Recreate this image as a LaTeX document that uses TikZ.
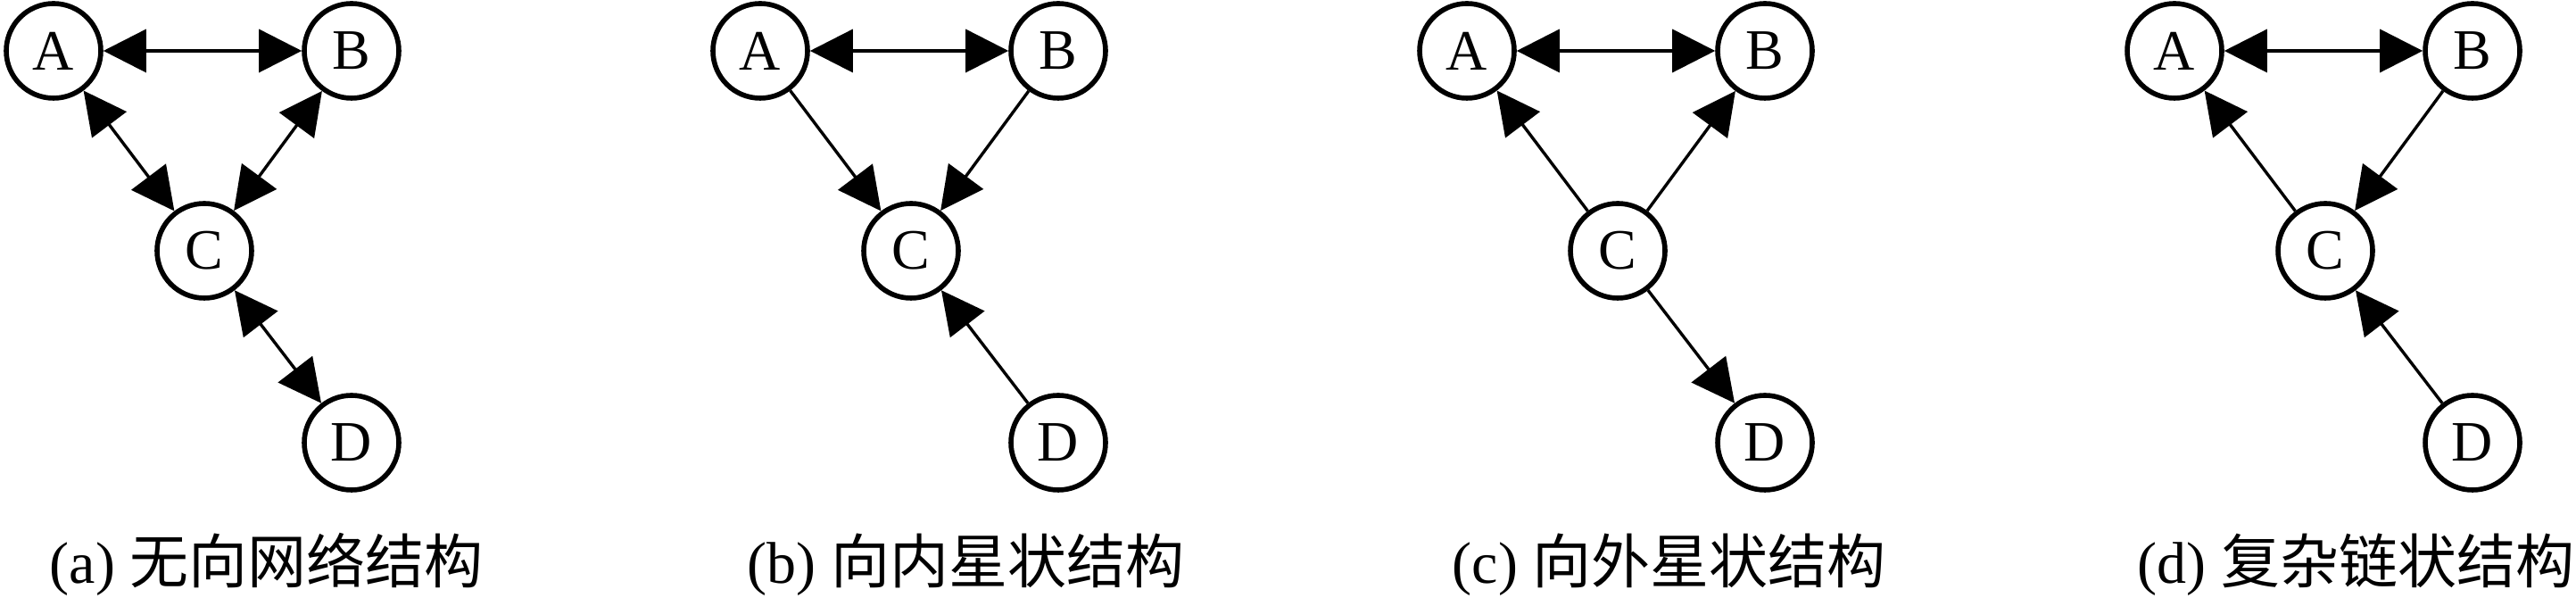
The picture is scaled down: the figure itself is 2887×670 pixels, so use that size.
\documentclass[tikz,border=0pt]{standalone}
\usepackage{fontspec}
\setmainfont{Liberation Serif}
\newfontfamily\cjk{Noto Sans CJK SC}
\usetikzlibrary{arrows.meta}
\tikzset{state/.style = {draw, circle, line width = 1.4pt, minimum size = 26.5pt,
                         inner sep = 0, font = \fontsize{16}{18}\selectfont}}
\tikzset{link/.style = {line width = 0.85pt, -{Triangle[length = 12pt, width = 12pt]}}}
\tikzset{both/.style = {line width = 0.85pt,
                        {Triangle[length = 12pt, width = 12pt]}-{Triangle[length = 12pt, width = 12pt]}}}
\tikzset{caption/.style = {anchor = base west, inner sep = 0, font = \fontsize{16.5}{19}\selectfont}}

\begin{document}
\begin{tikzpicture}[x = 0.25pt, y = 0.25pt]
      \useasboundingbox (0, 0) rectangle (2887, 670);
      \foreach \p/\x/\s/\t in {a/0/55/无向网络结构, b/792/837/向内星状结构,
                               c/1584/1627/向外星状结构, d/2377/2395/复杂链状结构} {
        \node (\p A) at (\x + 60, 613) [state] {A};
        \node (\p B) at (\x + 394, 613) [state] {B};
        \node (\p C) at (\x + 229, 389) [state] {C};
        \node (\p D) at (\x + 394, 174) [state] {D};
        \node (\p cap) at (\s, 16) [caption] {(\p) {\cjk \t}};
      }

      % (a)
      \draw [both] (aA) -- (aB);
      \draw [both] (aA) -- (aC);
      \draw [both] (aB) -- (aC);
      \draw [both] (aC) -- (aD);

      % (b)
      \draw [both] (bA) -- (bB);
      \draw [link] (bA) -- (bC);
      \draw [link] (bB) -- (bC);
      \draw [link] (bD) -- (bC);

      % (c)
      \draw [both] (cA) -- (cB);
      \draw [link] (cC) -- (cA);
      \draw [link] (cC) -- (cB);
      \draw [link] (cC) -- (cD);

      % (d)
      \draw [both] (dA) -- (dB);
      \draw [link] (dC) -- (dA);
      \draw [link] (dB) -- (dC);
      \draw [link] (dD) -- (dC);
    \end{tikzpicture}
\end{document}
